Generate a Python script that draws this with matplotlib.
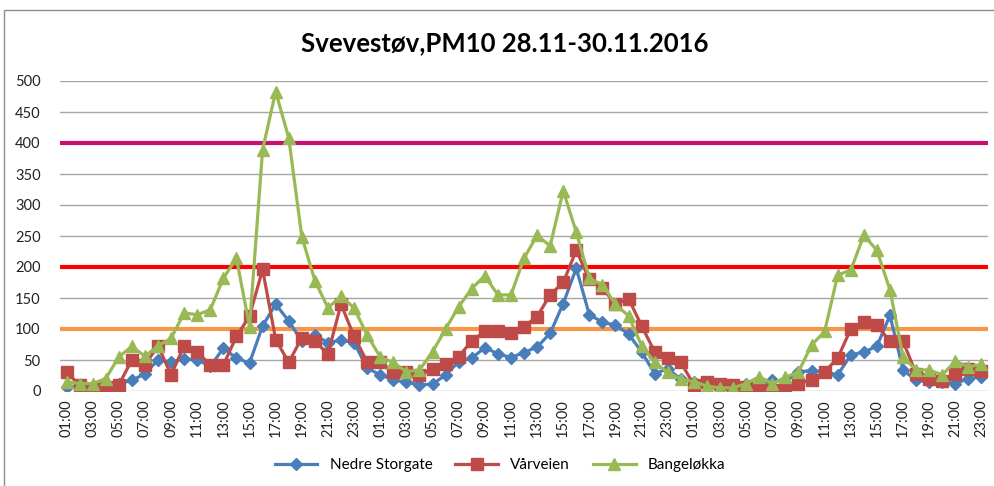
import matplotlib
matplotlib.use("Agg")
import matplotlib.pyplot as plt
from matplotlib.patches import Rectangle

plt.rcParams['font.family'] = ['Lato', 'DejaVu Sans']

# hourly values 28.11 01:00 -> 30.11 23:00 (71 points)
nedre_storgate = [7, 8, 5, 8, 12, 17, 28, 50, 47, 52, 50, 40, 69, 53, 45, 105, 140, 113, 80, 90,
                  78, 82, 78, 37, 26, 18, 14, 10, 11, 26, 47, 53, 70, 60, 54, 62, 71, 93, 141, 198,
                  123, 111, 106, 92, 63, 28, 36, 19, 14, 10, 8, 9, 12, 8, 18, 15, 31, 33, 31, 26,
                  58, 63, 72, 122, 34, 17, 15, 15, 12, 20, 23]
varveien = [30, 10, 4, 7, 10, 50, 42, 73, 26, 73, 63, 42, 42, 88, 121, 196, 83, 46, 86, 80,
            60, 140, 88, 47, 46, 30, 30, 26, 36, 44, 55, 81, 96, 97, 93, 104, 120, 155, 175, 227,
            180, 166, 140, 149, 105, 63, 54, 46, 10, 14, 12, 9, 6, 4, 1, 4, 12, 18, 31, 53,
            100, 112, 106, 80, 80, 28, 20, 16, 28, 36, 32]
bangelokka = [15, 12, 12, 20, 55, 72, 56, 73, 85, 126, 123, 131, 182, 214, 104, 389, 483, 408, 249, 178,
              134, 153, 134, 90, 55, 46, 31, 34, 63, 100, 136, 165, 186, 155, 155, 214, 251, 234, 323, 256,
              182, 171, 140, 121, 73, 46, 30, 19, 15, 8, 5, 5, 12, 23, 12, 22, 31, 74, 96, 187,
              195, 251, 227, 163, 55, 34, 34, 26, 48, 39, 43]
hours = ["%02d:00" % ((1 + i) % 24) for i in range(len(nedre_storgate))]

limits = [400, 200, 100]
limit_colors = ['#C8106E', '#FF0000', '#F79646']

fig = plt.figure(figsize=(9.95, 4.86), dpi=100)
fig.patches.append(Rectangle((4 / 995, -0.01), 1.0, 1 - 10 / 486 + 0.01, transform=fig.transFigure,
                             fill=False, edgecolor='#8C8C8C', linewidth=1))
ax = fig.add_axes([60 / 995, 1 - 391 / 486, 928 / 995, 310 / 486])

x = list(range(len(nedre_storgate)))
for y, c in zip(limits, limit_colors):
    ax.axhline(y, color=c, linewidth=3, zorder=2)

ax.plot(x, nedre_storgate, color='#4A7EBB', marker='D', markersize=6.5, linewidth=2.3,
        label='Nedre Storgate', zorder=3)
ax.plot(x, varveien, color='#BE4B48', marker='s', markersize=8, linewidth=2.3,
        label='Vårveien', zorder=4)
ax.plot(x, bangelokka, color='#98B954', marker='^', markersize=9, linewidth=2.3,
        label='Bangeløkka', zorder=5)

ax.set_xlim(-0.5, len(x) - 0.5)
ax.set_ylim(0, 500)
ax.set_yticks(range(0, 501, 50))
ax.set_xticks(x[::2])
ax.set_xticklabels(hours[::2], rotation=90)
ax.tick_params(axis='both', length=0, labelsize=10.5, colors='#222222')
ax.tick_params(axis='y', pad=14)
ax.tick_params(axis='x', pad=6)
ax.grid(axis='y', color='#A6A6A6', linewidth=1)
ax.set_axisbelow(True)
for s in ax.spines.values():
    s.set_visible(False)

fig.text(505 / 995, 1 - 43 / 486, 'Svevestøv,PM10 28.11-30.11.2016', ha='center', va='center',
         fontsize=18.5, fontweight='bold')
fig.legend(loc='center', bbox_to_anchor=(500 / 995, 1 - 465 / 486), ncol=3, frameon=False,
           fontsize=11, handlelength=2.8, columnspacing=1.5)

fig.savefig('out.png', dpi=100)
